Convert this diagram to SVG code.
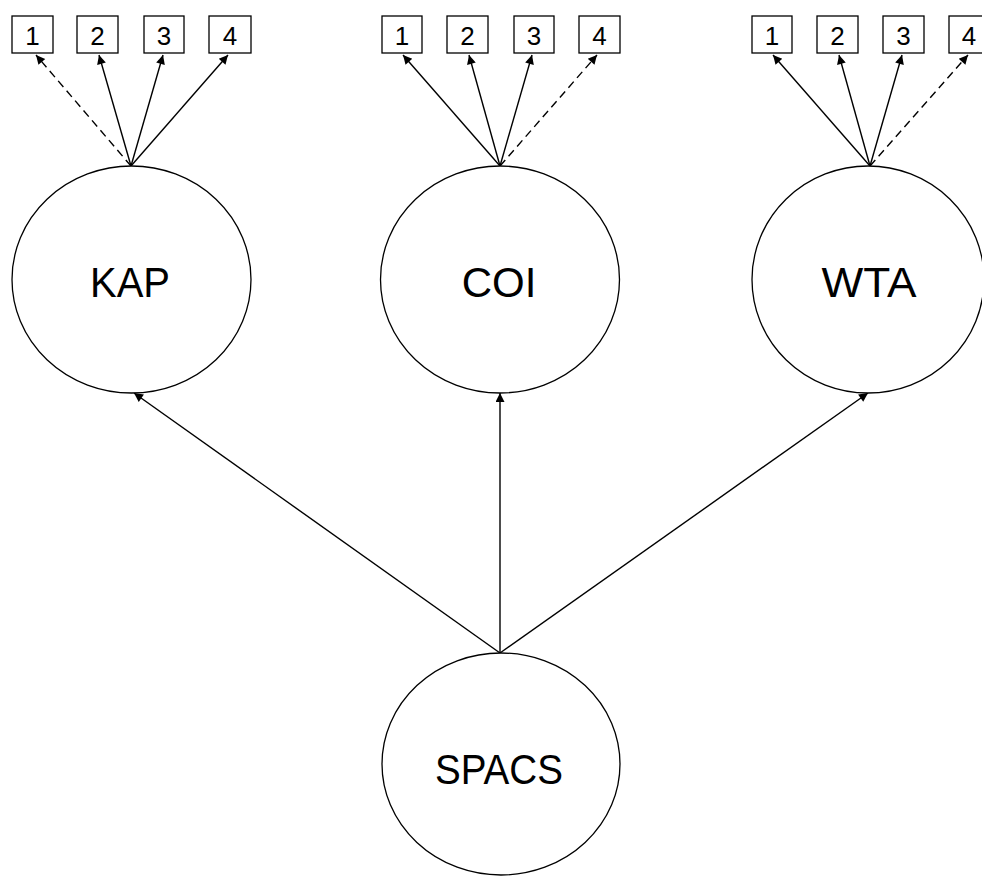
<svg xmlns="http://www.w3.org/2000/svg" width="982" height="876" viewBox="0 0 982 876">
<style>
.lat{fill:#fff;stroke:#000;stroke-width:1.3}
.box{fill:#fff;stroke:#000;stroke-width:1.3}
.lt{font-family:"Liberation Sans",Arial,sans-serif;font-size:42px;text-anchor:middle;fill:#000}
.it{font-family:"Liberation Sans",Arial,sans-serif;font-size:26px;text-anchor:middle;fill:#000}
.c{stroke:#000;stroke-width:1.4;fill:none;marker-end:url(#ah)}
.d{stroke-dasharray:8,5}
</style>
<defs>
<marker id="ah" viewBox="0 0 10 10" refX="10" refY="5" markerWidth="11" markerHeight="9" markerUnits="userSpaceOnUse" orient="auto">
<path d="M0,0 L10,5 L0,10 z" fill="#000"/>
</marker>
</defs>
<g id="connectors">
<line class="c d" x1="131" y1="166" x2="36" y2="55"/>
<line class="c" x1="131" y1="166" x2="99" y2="55"/>
<line class="c" x1="131" y1="166" x2="163" y2="55"/>
<line class="c" x1="131" y1="166" x2="228" y2="55"/>
<line class="c" x1="500" y1="166" x2="403" y2="55"/>
<line class="c" x1="500" y1="166" x2="469" y2="55"/>
<line class="c" x1="500" y1="166" x2="532" y2="55"/>
<line class="c d" x1="500" y1="166" x2="597" y2="55"/>
<line class="c" x1="870" y1="166" x2="773" y2="55"/>
<line class="c" x1="870" y1="166" x2="839" y2="55"/>
<line class="c" x1="870" y1="166" x2="902" y2="55"/>
<line class="c d" x1="870" y1="166" x2="968" y2="55"/>
<line class="c" x1="500" y1="653" x2="134" y2="393"/>
<line class="c" x1="500" y1="653" x2="500" y2="393"/>
<line class="c" x1="500" y1="653" x2="868" y2="393"/>
</g>
<g id="KAP"><ellipse class="lat" cx="131.5" cy="279.5" rx="119.5" ry="113.5"/><text class="lt" x="130" y="297" textLength="80" lengthAdjust="spacingAndGlyphs">KAP</text></g>
<g id="COI"><ellipse class="lat" cx="500" cy="279.5" rx="119.5" ry="113.5"/><text class="lt" x="499" y="297">COI</text></g>
<g id="WTA"><ellipse class="lat" cx="868" cy="279.5" rx="116" ry="113.5"/><text class="lt" x="869" y="297" textLength="95" lengthAdjust="spacingAndGlyphs">WTA</text></g>
<g id="SPACS"><ellipse class="lat" cx="501" cy="764" rx="119" ry="111"/><text class="lt" x="499" y="784" textLength="128" lengthAdjust="spacingAndGlyphs">SPACS</text></g>
<g id="KAP1"><rect class="box" x="12" y="16" width="41" height="37"/><text class="it" x="32.5" y="45">1</text></g>
<g id="KAP2"><rect class="box" x="77" y="16" width="41" height="37"/><text class="it" x="97.5" y="45">2</text></g>
<g id="KAP3"><rect class="box" x="144" y="16" width="40" height="37"/><text class="it" x="164" y="45">3</text></g>
<g id="KAP4"><rect class="box" x="209" y="16" width="42" height="37"/><text class="it" x="230" y="45">4</text></g>
<g id="COI1"><rect class="box" x="382" y="16" width="40" height="37"/><text class="it" x="402" y="45">1</text></g>
<g id="COI2"><rect class="box" x="447" y="16" width="41" height="37"/><text class="it" x="467.5" y="45">2</text></g>
<g id="COI3"><rect class="box" x="514" y="16" width="40" height="37"/><text class="it" x="534" y="45">3</text></g>
<g id="COI4"><rect class="box" x="579" y="16" width="41" height="37"/><text class="it" x="599.5" y="45">4</text></g>
<g id="WTA1"><rect class="box" x="752" y="16" width="40" height="37"/><text class="it" x="772" y="45">1</text></g>
<g id="WTA2"><rect class="box" x="817" y="16" width="41" height="37"/><text class="it" x="837.5" y="45">2</text></g>
<g id="WTA3"><rect class="box" x="883" y="16" width="41" height="37"/><text class="it" x="903.5" y="45">3</text></g>
<g id="WTA4"><rect class="box" x="949" y="16" width="41" height="37"/><text class="it" x="969" y="45">4</text></g>
</svg>
